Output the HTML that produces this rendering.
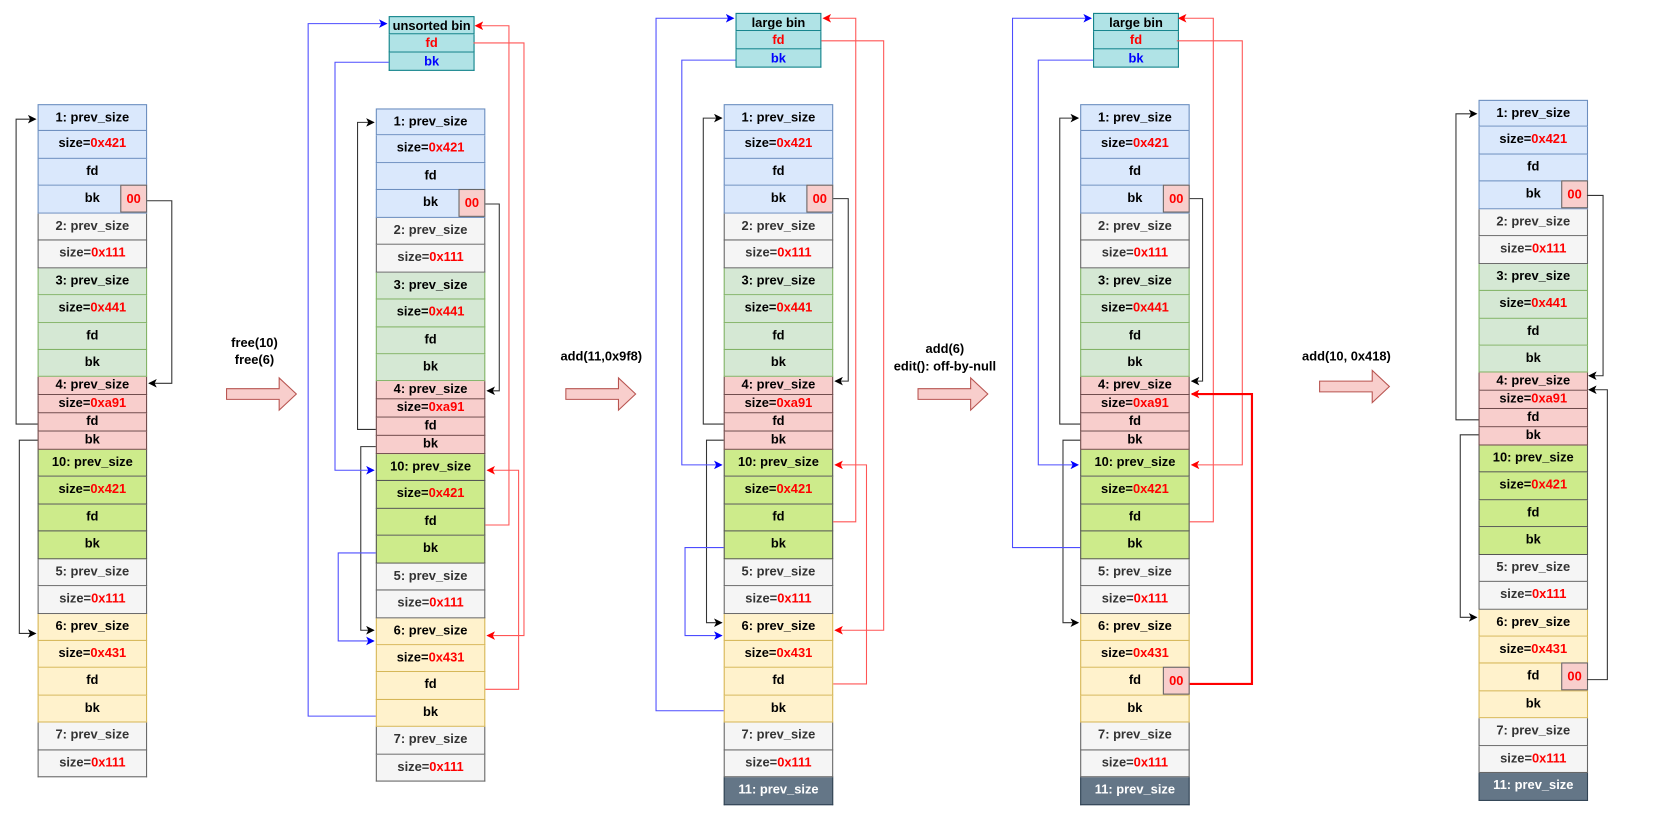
<!DOCTYPE html>
<html><head><meta charset="utf-8"><style>
body{margin:0;background:#fff;}
#w{position:relative;width:1560px;height:774px;transform:scale(1.07372,1.07364);transform-origin:0 0;font-family:"Liberation Sans",Arial,sans-serif;font-weight:bold;font-size:12px;}
.c{position:absolute;width:102px;}
.c div{box-sizing:border-box;height:25.45px;line-height:23px;text-align:center;border:1px solid;border-top:none;position:relative;color:#000;}
.c div:first-child{border-top:1px solid;}
.c div.h{height:16.9px;line-height:15px;}
.b{background:#dae8fc;border-color:#6c8ebf!important}
.g{background:#f5f5f5;border-color:#666!important;color:#333!important}
.gr{background:#d5e8d4;border-color:#82b366!important}
.r{background:#f8cecc;border-color:#6e4a4a!important}
.l{background:#cdeb8b;border-color:#555!important}
.y{background:#fff2cc;border-color:#d6b656!important}
.d{background:#647687;border-color:#314354!important;color:#fff!important}
.v{color:#f00}
.z{position:absolute;right:-1px;top:-1px;width:25px;height:26px;box-sizing:border-box;border:1px solid #666;background:#f8cecc;color:#f00;line-height:24px;text-align:center;}
.bin{position:absolute;width:80px;}
.bin div{box-sizing:border-box;height:17px;line-height:16px;text-align:center;border:1px solid #0e8088;border-top:none;background:#b0e3e6;}
.bin div:first-child{border-top:1px solid #0e8088;}
.t{position:absolute;text-align:center;line-height:16px;width:240px;white-space:nowrap;z-index:5;}
svg{position:absolute;left:0;top:0;}
</style></head><body><div id="w">

<div class="c" style="left:35px;top:97px">
<div class="b">1: prev_size</div><div class="b">size=<span class="v">0x421</span></div><div class="b">fd</div><div class="b">bk<span class="z">00</span></div>
<div class="g">2: prev_size</div><div class="g">size=<span class="v">0x111</span></div>
<div class="gr">3: prev_size</div><div class="gr">size=<span class="v">0x441</span></div><div class="gr">fd</div><div class="gr">bk</div>
<div class="r h">4: prev_size</div><div class="r h">size=<span class="v">0xa91</span></div><div class="r h">fd</div><div class="r h">bk</div>
<div class="l">10: prev_size</div><div class="l">size=<span class="v">0x421</span></div><div class="l">fd</div><div class="l">bk</div>
<div class="g">5: prev_size</div><div class="g">size=<span class="v">0x111</span></div>
<div class="y">6: prev_size</div><div class="y">size=<span class="v">0x431</span></div><div class="y">fd</div><div class="y">bk</div>
<div class="g">7: prev_size</div><div class="g">size=<span class="v">0x111</span></div>
</div>

<div class="c" style="left:350px;top:101px">
<div class="b">1: prev_size</div><div class="b">size=<span class="v">0x421</span></div><div class="b">fd</div><div class="b">bk<span class="z">00</span></div>
<div class="g">2: prev_size</div><div class="g">size=<span class="v">0x111</span></div>
<div class="gr">3: prev_size</div><div class="gr">size=<span class="v">0x441</span></div><div class="gr">fd</div><div class="gr">bk</div>
<div class="r h">4: prev_size</div><div class="r h">size=<span class="v">0xa91</span></div><div class="r h">fd</div><div class="r h">bk</div>
<div class="l">10: prev_size</div><div class="l">size=<span class="v">0x421</span></div><div class="l">fd</div><div class="l">bk</div>
<div class="g">5: prev_size</div><div class="g">size=<span class="v">0x111</span></div>
<div class="y">6: prev_size</div><div class="y">size=<span class="v">0x431</span></div><div class="y">fd</div><div class="y">bk</div>
<div class="g">7: prev_size</div><div class="g">size=<span class="v">0x111</span></div>
</div>

<div class="c" style="left:674px;top:97px">
<div class="b">1: prev_size</div><div class="b">size=<span class="v">0x421</span></div><div class="b">fd</div><div class="b">bk<span class="z">00</span></div>
<div class="g">2: prev_size</div><div class="g">size=<span class="v">0x111</span></div>
<div class="gr">3: prev_size</div><div class="gr">size=<span class="v">0x441</span></div><div class="gr">fd</div><div class="gr">bk</div>
<div class="r h">4: prev_size</div><div class="r h">size=<span class="v">0xa91</span></div><div class="r h">fd</div><div class="r h">bk</div>
<div class="l">10: prev_size</div><div class="l">size=<span class="v">0x421</span></div><div class="l">fd</div><div class="l">bk</div>
<div class="g">5: prev_size</div><div class="g">size=<span class="v">0x111</span></div>
<div class="y">6: prev_size</div><div class="y">size=<span class="v">0x431</span></div><div class="y">fd</div><div class="y">bk</div>
<div class="g">7: prev_size</div><div class="g">size=<span class="v">0x111</span></div>
<div class="d">11: prev_size</div>
</div>

<div class="c" style="left:1006px;top:97px">
<div class="b">1: prev_size</div><div class="b">size=<span class="v">0x421</span></div><div class="b">fd</div><div class="b">bk<span class="z">00</span></div>
<div class="g">2: prev_size</div><div class="g">size=<span class="v">0x111</span></div>
<div class="gr">3: prev_size</div><div class="gr">size=<span class="v">0x441</span></div><div class="gr">fd</div><div class="gr">bk</div>
<div class="r h">4: prev_size</div><div class="r h">size=<span class="v">0xa91</span></div><div class="r h">fd</div><div class="r h">bk</div>
<div class="l">10: prev_size</div><div class="l">size=<span class="v">0x421</span></div><div class="l">fd</div><div class="l">bk</div>
<div class="g">5: prev_size</div><div class="g">size=<span class="v">0x111</span></div>
<div class="y">6: prev_size</div><div class="y">size=<span class="v">0x431</span></div><div class="y">fd<span class="z">00</span></div><div class="y">bk</div>
<div class="g">7: prev_size</div><div class="g">size=<span class="v">0x111</span></div>
<div class="d">11: prev_size</div>
</div>

<div class="c" style="left:1377px;top:93px">
<div class="b">1: prev_size</div><div class="b">size=<span class="v">0x421</span></div><div class="b">fd</div><div class="b">bk<span class="z">00</span></div>
<div class="g">2: prev_size</div><div class="g">size=<span class="v">0x111</span></div>
<div class="gr">3: prev_size</div><div class="gr">size=<span class="v">0x441</span></div><div class="gr">fd</div><div class="gr">bk</div>
<div class="r h">4: prev_size</div><div class="r h">size=<span class="v">0xa91</span></div><div class="r h">fd</div><div class="r h">bk</div>
<div class="l">10: prev_size</div><div class="l">size=<span class="v">0x421</span></div><div class="l">fd</div><div class="l">bk</div>
<div class="g">5: prev_size</div><div class="g">size=<span class="v">0x111</span></div>
<div class="y">6: prev_size</div><div class="y">size=<span class="v">0x431</span></div><div class="y">fd<span class="z">00</span></div><div class="y">bk</div>
<div class="g">7: prev_size</div><div class="g">size=<span class="v">0x111</span></div>
<div class="d">11: prev_size</div>
</div>

<div class="bin" style="left:362px;top:15px"><div>unsorted bin</div><div style="color:#f00">fd</div><div style="color:#00f">bk</div></div>
<div class="bin" style="left:685px;top:12px"><div>large bin</div><div style="color:#f00">fd</div><div style="color:#00f">bk</div></div>
<div class="bin" style="left:1018px;top:12px"><div>large bin</div><div style="color:#f00">fd</div><div style="color:#00f">bk</div></div>

<div class="t" style="left:117px;top:311px">free(10)<br>free(6)</div>
<div class="t" style="left:440px;top:324px">add(11,0x9f8)</div>
<div class="t" style="left:760px;top:317px">add(6)<br>edit(): off-by-null</div>
<div class="t" style="left:1134px;top:324px">add(10, 0x418)</div>

<svg width="1560" height="774" viewBox="0 0 1560 774">
<defs>
<marker id="k" markerWidth="8" markerHeight="8" refX="7" refY="4" orient="auto" markerUnits="userSpaceOnUse"><path d="M0,0L8,4L0,8L2,4z" fill="#000"/></marker>
<marker id="bl" markerWidth="8" markerHeight="8" refX="7" refY="4" orient="auto" markerUnits="userSpaceOnUse"><path d="M0,0L8,4L0,8L2,4z" fill="#00f"/></marker>
<marker id="rd" markerWidth="8" markerHeight="8" refX="7" refY="4" orient="auto" markerUnits="userSpaceOnUse"><path d="M0,0L8,4L0,8L2,4z" fill="#f00"/></marker>
</defs>
<g fill="#f8cecc" stroke="#b85450" stroke-width="1">
<path d="M211,362H260V352L276,367L260,382V372H211z"/>
<path d="M527,362H576V352L592,367L576,382V372H527z"/>
<path d="M855,362H904V352L920,367L904,382V372H855z"/>
<path d="M1229,355H1278V345L1294,360L1278,375V365H1229z"/>
</g>
<g fill="none" stroke="#333" stroke-width="1" marker-end="url(#k)">
<path d="M137,187H160V357H139"/>
<path d="M35,395H15V111H33"/>
<path d="M35,410H18V590H33"/>
<path d="M452,190H465V364H454"/>
<path d="M350,400H333V114H348"/>
<path d="M350,416H336V587H348"/>
<path d="M776,185H790V355H778"/>
<path d="M674,395H655V110H672"/>
<path d="M674,410H658V580H672"/>
<path d="M1108,185H1120V355H1110"/>
<path d="M1006,395H987V110H1004"/>
<path d="M1006,410H990V580H1004"/>
<path d="M1478,182H1493V350H1480"/>
<path d="M1478,633H1497V363H1480"/>
<path d="M1377,391H1356V106H1375"/>
<path d="M1377,405H1360V575H1375"/>
</g>
<g fill="none" stroke="#4d4dff" stroke-width="1" marker-end="url(#bl)">
<path d="M362,58H312V438H348"/>
<path d="M350,667H287V22H360"/>
<path d="M350,515H315V597H348"/>
<path d="M674,662H611V17H683"/>
<path d="M685,56H635V433H672"/>
<path d="M674,510H638V592H672"/>
<path d="M1006,510H943V17H1016"/>
<path d="M1018,56H967V433H1004"/>
</g>
<g fill="none" stroke="#f55" stroke-width="1" marker-end="url(#rd)">
<path d="M441,40H488V592H454"/>
<path d="M452,489H474V24H443"/>
<path d="M452,642H483V438H454"/>
<path d="M765,38H823V587H778"/>
<path d="M776,486H797V17H767"/>
<path d="M776,637H807V433H778"/>
<path d="M1096,38H1157V433H1110"/>
<path d="M1108,486H1130V17H1098"/>
</g>
<path d="M1108,637H1166V367H1110" fill="none" stroke="#f00" stroke-width="2" marker-end="url(#rd)"/>
</svg>
</div></body></html>
